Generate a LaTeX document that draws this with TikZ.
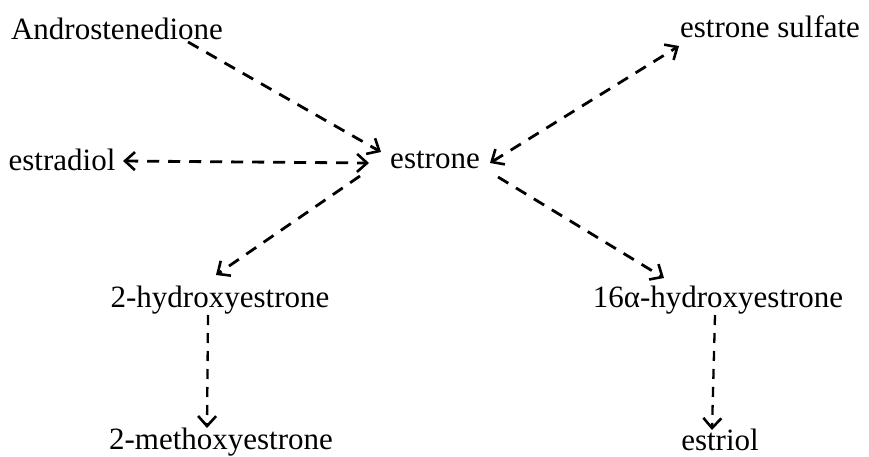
\documentclass[tikz,border=0pt]{standalone}
\usepackage{fontspec}
\setmainfont{Liberation Serif}
\usetikzlibrary{arrows.meta,calc}
\begin{document}
\begin{tikzpicture}[x=1pt,y=-1pt,
  lbl/.style={inner sep=0pt, anchor=base, font=\fontsize{31}{35}\selectfont},
  tip/.style={-{Straight Barb[length=10pt,width=18pt,line width=2.6pt]}},
  conn/.style={line width=2.8pt, dash pattern=on 12pt off 9pt, tip},
  bothconn/.style={conn, {Straight Barb[length=10pt,width=18pt,line width=2.6pt]}-{Straight Barb[length=10pt,width=18pt,line width=2.6pt]}},
  vconn/.style={line width=2.3pt, dash pattern=on 10pt off 8pt, tip}]
\useasboundingbox (0,0) rectangle (869,457);
\node[lbl] (andro) at (117,40) {Androstenedione};
\node[lbl] (estradiol) at (62,171) {estradiol};
\node[lbl] (estrone) at (435,168) {estrone};
\node[lbl] (sulfate) at (770,38) {estrone sulfate};
\node[lbl] (hydroxy) at (220,307) {2-hydroxyestrone};
\node[lbl] (methoxy) at (221,449) {2-methoxyestrone};
\node[lbl] (sixteen) at (718,307) {16α-hydroxyestrone};
\node[lbl] (estriol) at (720,450) {estriol};
\draw[conn] ($(andro.base)+(71,2)$) -- ($(estrone.base)+(-54,-16)$);
\draw[bothconn] ($(estradiol.base)+(61,-10)$) -- ($(estrone.base)+(-66,-5)$);
\draw[conn] ($(estrone.base)+(-75,8)$) -- ($(hydroxy.base)+(-4,-32)$);
\draw[bothconn] ($(estrone.base)+(55,-5)$) -- ($(sulfate.base)+(-91,8)$);
\draw[conn] ($(estrone.base)+(63,9)$) -- ($(sixteen.base)+(-54,-29)$);
\draw[vconn] ($(hydroxy.base)+(-12,8)$) -- ($(methoxy.base)+(-14,-21)$);
\draw[vconn] ($(sixteen.base)+(-3,8)$) -- ($(estriol.base)+(-8,-20)$);
\end{tikzpicture}
\end{document}
